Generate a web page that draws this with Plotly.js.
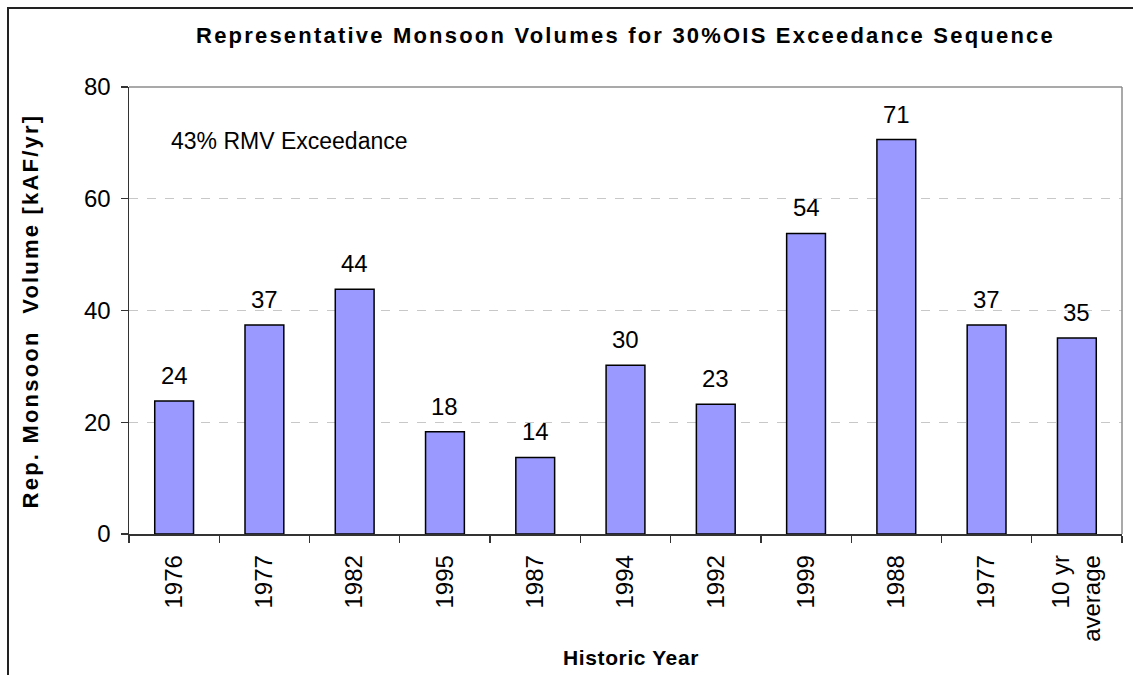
<!DOCTYPE html>
<html>
<head>
<meta charset="utf-8">
<script src="https://cdn.plot.ly/plotly-3.0.1.min.js"></script>
<style>
  html, body { margin: 0; padding: 0; background: #fff; }
  #wrap { position: relative; width: 1133px; height: 675px; overflow: hidden; }
  #chart { position: absolute; left: 0; top: 0; width: 1133px; height: 675px; }
  #frame { position: absolute; left: 7px; top: 7px; width: 1200px; height: 700px;
           border-left: 2px solid #222; border-top: 2px solid #222; pointer-events: none; }
</style>
</head>
<body>
<div id="wrap">
  <div id="chart"></div>
  <div id="frame"></div>
</div>
<script>
// Data
const categories = ['1976', '1977', '1982', '1995', '1987', '1994', '1992', '1999', '1988', '1977', '10 yr<br>average'];
const volumes = [23.8, 37.4, 43.8, 18.3, 13.7, 30.2, 23.2, 53.8, 70.6, 37.4, 35.1];
const yTicks = [0, 20, 40, 60, 80];

const chartTitle = 'Representative Monsoon Volumes for 30%OIS Exceedance Sequence';
const xTitle = 'Historic Year';
const yTitle = 'Rep. Monsoon  Volume [kAF/yr]';
const noteText = '43% RMV Exceedance';

const FONT = 'Liberation Sans, Arial, sans-serif';
const positions = categories.map((_, i) => i);

const trace = {
  type: 'bar',
  x: positions,
  y: volumes,
  width: 0.43,
  marker: { color: '#9999FF', line: { color: '#000000', width: 1.5 } },
  hoverinfo: 'y'
};

const annotations = volumes.map((v, i) => ({
  x: i, y: v, xref: 'x', yref: 'y',
  text: String(Math.round(v)),
  showarrow: false, xanchor: 'center', yanchor: 'bottom', yshift: 10,
  font: { family: FONT, size: 24, color: '#000' }
}));

annotations.push({
  xref: 'paper', yref: 'paper', x: 0.0403, y: 0.879,
  xanchor: 'left', yanchor: 'middle', showarrow: false,
  text: noteText, font: { family: FONT, size: 23, color: '#000' }
});
annotations.push({
  xref: 'paper', yref: 'paper', x: 0.5055, y: -0.2774,
  xanchor: 'center', yanchor: 'middle', showarrow: false,
  text: '<b>' + xTitle + '</b>', font: { family: FONT, size: 21, color: '#000' }
});
annotations.push({
  xref: 'paper', yref: 'paper', x: -0.0987, y: 0.5,
  xanchor: 'center', yanchor: 'middle', showarrow: false, textangle: -90,
  text: '<b>' + yTitle + '</b>', font: { family: FONT, size: 22, color: '#000' }
});

const layout = {
  width: 1133, height: 675,
  margin: { l: 129, r: 11, t: 87, b: 141, pad: 0 },
  paper_bgcolor: 'rgba(0,0,0,0)',
  plot_bgcolor: '#ffffff',
  showlegend: false,
  title: {
    text: '<b>' + chartTitle + '</b>',
    font: { family: FONT, size: 22, color: '#000' },
    x: 0.5, xref: 'paper', xanchor: 'center',
    y: 1 - 35 / 675, yref: 'container', yanchor: 'middle'
  },
  xaxis: {
    range: [-0.5, categories.length - 0.5],
    tickmode: 'array', tickvals: positions, ticktext: categories,
    tickangle: -90, ticks: '', showgrid: false, zeroline: false,
    showline: true, linecolor: '#333', linewidth: 1.5,
    tickfont: { family: FONT, size: 24, color: '#000' },
    ticklabelstandoff: 10,
    minor: { tick0: 0.5, dtick: 1, ticks: 'outside', ticklen: 7, tickcolor: '#333', tickwidth: 1.3, showgrid: false },
    fixedrange: true
  },
  yaxis: {
    range: [0, 80], tickmode: 'array', tickvals: yTicks,
    ticks: 'outside', ticklen: 7, tickcolor: '#333', tickwidth: 1.3,
    showline: true, linecolor: '#333', linewidth: 1.5,
    showgrid: true, gridcolor: '#c8c8c8', griddash: 'dash', gridwidth: 1,
    zeroline: false,
    tickfont: { family: FONT, size: 24, color: '#000' },
    ticklabelstandoff: 5,
    fixedrange: true
  },
  shapes: [
    { type: 'line', xref: 'paper', yref: 'paper', x0: 0, x1: 1, y0: 1, y1: 1, line: { color: '#8c8c8c', width: 1.5 } },
    { type: 'line', xref: 'paper', yref: 'paper', x0: 1, x1: 1, y0: 0, y1: 1, line: { color: '#8c8c8c', width: 1.5 } }
  ],
  annotations: annotations
};

Plotly.newPlot('chart', [trace], layout, { displayModeBar: false, staticPlot: true }).then(gd => {
  // widen letter spacing of the bold titles, as in the reference
  const t = gd.querySelector('.gtitle');
  if (t) t.style.letterSpacing = '2.2px';
  gd.querySelectorAll('.annotation-text').forEach(el => {
    const s = el.textContent;
    if (s === yTitle) el.style.letterSpacing = '2.2px';
    if (s === xTitle) el.style.letterSpacing = '0.6px';
  });
});
</script>
</body>
</html>
